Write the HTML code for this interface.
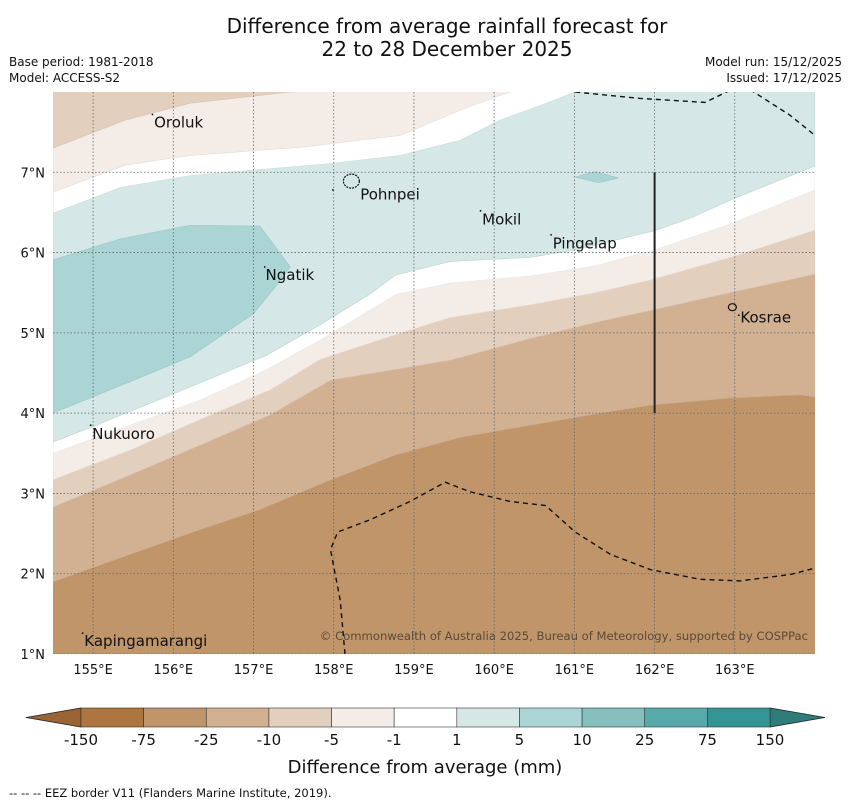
<!DOCTYPE html>
<html><head><meta charset="utf-8"><style>
body{margin:0;background:#fff;}
svg{display:block;font-family:"DejaVu Sans","Liberation Sans",sans-serif;}
</style></head><body>
<svg id="chart" width="850" height="804" viewBox="0 0 850 804" xmlns="http://www.w3.org/2000/svg">
<text x="447" y="33" font-size="20" text-anchor="middle" fill="#111">Difference from average rainfall forecast for</text>
<text x="447" y="56" font-size="20" text-anchor="middle" fill="#111">22 to 28 December 2025</text>
<text x="9" y="66" font-size="12" fill="#111">Base period: 1981-2018</text>
<text x="9" y="82" font-size="12" fill="#111">Model: ACCESS-S2</text>
<text x="842" y="66" font-size="12" text-anchor="end" fill="#111">Model run: 15/12/2025</text>
<text x="842" y="82" font-size="12" text-anchor="end" fill="#111">Issued: 17/12/2025</text>
<defs><clipPath id="mapclip"><rect x="53" y="92" width="762" height="562"/></clipPath></defs>
<g id="map" clip-path="url(#mapclip)"></g>
<g id="axes"></g>
<g id="cbar"></g>
<text x="425" y="773" font-size="18" text-anchor="middle" fill="#111">Difference from average (mm)</text>
<text x="9" y="797" font-size="11.5" fill="#111">--  --  -- EEZ border V11 (Flanders Marine Institute, 2019).</text>
</svg>
<script>
// ---- data (lon, lat) ----
const lonTicks=[155,156,157,158,159,160,161,162,163];
const latTicks=[1,2,3,4,5,6,7];
const bandLevels=["-150","-75","-25","-10","-5","-1","1","5","10","25","75","150"];
const bandColors=["#ad7540","#c0956a","#d2b193","#e3cfbe","#f4ece6","#ffffff","#d5e8e7","#abd5d5","#85c0bf","#57aaa9","#339695"];
const b1=[[154.5,1.90],[155.46,2.24],[156.33,2.55],[157.08,2.80],[157.96,3.17],[158.77,3.48],[159.58,3.70],[160.45,3.85],[161.32,4.00],[161.95,4.10],[162.94,4.19],[163.82,4.23],[164.0,4.20]];
const b2=[[154.5,2.83],[155.46,3.23],[156.33,3.60],[157.21,3.98],[157.96,4.41],[159.45,4.66],[160.45,4.93],[161.26,5.13],[161.95,5.28],[162.98,5.51],[164.0,5.73]];
const b3=[[154.5,3.17],[155.46,3.54],[156.33,3.92],[157.21,4.29],[157.83,4.67],[158.87,5.01],[159.45,5.19],[160.45,5.35],[161.26,5.50],[161.95,5.66],[162.98,5.95],[164.0,6.28]];
const b4=[[154.5,3.50],[155.46,3.85],[156.33,4.16],[157.16,4.54],[157.83,4.91],[158.78,5.48],[159.45,5.62],[160.45,5.71],[161.24,5.83],[161.99,6.03],[162.98,6.37],[164.0,6.78]];
const b5=[[154.5,3.64],[155.04,3.85],[156.0,4.24],[157.16,4.72],[157.83,5.10],[158.45,5.48],[158.77,5.72],[159.45,5.89],[160.45,5.94],[160.99,6.03],[161.99,6.27],[162.45,6.43],[162.98,6.67],[164.0,7.08]];
const t1=[[154.5,6.49],[155.34,6.81],[156.21,6.96],[157.96,7.11],[158.83,7.21],[159.58,7.40],[160.07,7.65],[160.57,7.83],[161.01,8.0]];
const t2=[[154.5,6.75],[155.40,7.09],[156.21,7.21],[157.58,7.31],[158.83,7.46],[159.64,7.80],[160.20,8.0]];
const t3=[[154.5,7.30],[155.40,7.65],[156.21,7.86],[157.46,8.0]];
const blob1=[[154.5,5.91],[155.34,6.17],[156.21,6.34],[157.08,6.33],[157.46,5.82],[157.27,5.57],[157.0,5.24],[156.21,4.70],[155.46,4.39],[154.5,4.00]];
const blob2=[[161.01,6.94],[161.26,7.01],[161.55,6.93],[161.30,6.87]];
const eezSouth=[[158.14,1.0],[158.08,1.67],[157.96,2.30],[158.05,2.52],[158.45,2.67],[158.95,2.90],[159.39,3.14],[159.70,3.02],[160.20,2.90],[160.64,2.85],[161.01,2.52],[161.45,2.24],[161.95,2.05],[162.57,1.93],[163.07,1.91],[163.69,1.99],[164.0,2.07]];
const eezNorth1=[[161.01,8.0],[161.82,7.92],[162.63,7.87],[163.0,8.05]];
const eezNorth2=[[163.19,8.03],[163.69,7.71],[164.0,7.46]];
const divider=[[162.0,7.0],[162.0,4.0]];
// name, label lon, label lat, marker lon, marker lat
const places=[["Oroluk",155.76,7.56,155.74,7.72],["Pohnpei",158.33,6.66,157.99,6.78],["Mokil",159.85,6.35,159.83,6.52],["Pingelap",160.73,6.05,160.71,6.22],["Ngatik",157.15,5.66,157.14,5.82],["Kosrae",163.07,5.13,163.05,5.22],["Nukuoro",154.99,3.68,154.97,3.85],["Kapingamarangi",154.89,1.1,154.87,1.26]];
// ---- axes ----
const X0=53,X1=815,Y0=92,Y1=654,LON0=154.5,LON1=164.0,LAT0=1.0,LAT1=8.0;
const xs=lon=>X0+(lon-LON0)/(LON1-LON0)*(X1-X0);
const ys=lat=>Y1-(lat-LAT0)/(LAT1-LAT0)*(Y1-Y0);
const NS="http://www.w3.org/2000/svg";
function mk(tag,attrs,parent){const e=document.createElementNS(NS,tag);for(const k in attrs)e.setAttribute(k,attrs[k]);parent.appendChild(e);return e;}
const pts=a=>a.map(p=>xs(p[0]).toFixed(1)+","+ys(p[1]).toFixed(1)).join(" ");
const map=document.getElementById('map');
let r=mk('rect',{x:X0,y:Y0,width:X1-X0,height:Y1-Y0,fill:bandColors[1]},map);


function up(line,color,name,edge){
  const poly=line.concat([[LON1,LAT1+0.2],[LON0,LAT1+0.2]]);
  const p=mk('polygon',{points:pts(poly),fill:color,stroke:edge,'stroke-width':0.6},map);
  
  
}
up(b1,bandColors[2],'band-neg25-neg10','#c9ad94');
up(b2,bandColors[3],'band-neg10-neg5','#d6c2b1');
up(b3,bandColors[4],'band-neg5-neg1','#e6dcd4');
up(b4,bandColors[5],'band-neg1-1','#e9e9e9');
up(b5,bandColors[6],'band-1-5','#b9d2d1');
up(t1,bandColors[5],'band-top-neg1-1','#c9dedd');
up(t2,bandColors[4],'band-top-neg5-neg1','#e6dcd4');
up(t3,bandColors[3],'band-top-neg10-neg5','#d6c2b1');
let q=mk('polygon',{points:pts(blob1),fill:bandColors[7],stroke:'#9cc6c6','stroke-width':0.6},map);


q=mk('polygon',{points:pts(blob2),fill:bandColors[7],stroke:'#9cc6c6','stroke-width':0.6},map);


lonTicks.forEach(l=>{const g=mk('line',{x1:xs(l),x2:xs(l),y1:Y0,y2:Y1,stroke:'#666','stroke-width':0.8,'stroke-dasharray':'1.5,2'},map);

});
latTicks.forEach(l=>{const g=mk('line',{x1:X0,x2:X1,y1:ys(l),y2:ys(l),stroke:'#666','stroke-width':0.8,'stroke-dasharray':'1.5,2'},map);

});
[eezSouth,eezNorth1,eezNorth2].forEach((a,i)=>{const e=mk('polyline',{points:pts(a),fill:'none',stroke:'#111','stroke-width':1.4,'stroke-dasharray':'5,4'},map);

});
const dv=mk('polyline',{points:pts(divider),fill:'none',stroke:'#222','stroke-width':2},map);


const pp=mk('ellipse',{cx:xs(158.22),cy:ys(6.89),rx:8,ry:7,fill:'none',stroke:'#111','stroke-width':1.2,'stroke-dasharray':'2,1'},map);


const ks=mk('ellipse',{cx:xs(162.97),cy:ys(5.32),rx:4,ry:3.5,fill:'none',stroke:'#111','stroke-width':1.2},map);


places.forEach(p=>{
  const d=mk('circle',{cx:xs(p[3]),cy:ys(p[4]),r:0.9,fill:'#111'},map);
  
  
  const t=mk('text',{x:xs(p[1]),y:ys(p[2]),'font-size':15,fill:'#111'},map);
  t.textContent=p[0];
  
  
});
const cp=mk('text',{x:808,y:640,'font-size':11.6,'text-anchor':'end',fill:'#5a4a3a'},map);
cp.textContent="© Commonwealth of Australia 2025, Bureau of Meteorology, supported by COSPPac";


const ax=document.getElementById('axes');
lonTicks.forEach(l=>{const t=mk('text',{x:xs(l),y:674,'font-size':13,'text-anchor':'middle',fill:'#111'},ax);
t.textContent=l+"°E";

});
latTicks.forEach(l=>{const t=mk('text',{x:45,y:ys(l)+5,'font-size':13,'text-anchor':'end',fill:'#111'},ax);
t.textContent=l+"°N";

});
const cb=document.getElementById('cbar');
const CB0=81,CB1=770,CBT=708,CBB=727,bw=(CB1-CB0)/bandColors.length;
let tri=mk('polygon',{points:`${CB0},${CBT} ${CB0},${CBB} 26,${(CBT+CBB)/2}`,fill:'#9a6436',stroke:'#222','stroke-width':0.8},cb);


tri=mk('polygon',{points:`${CB1},${CBT} ${CB1},${CBB} 825,${(CBT+CBB)/2}`,fill:'#2e7d7b',stroke:'#222','stroke-width':0.8},cb);


bandColors.forEach((c,i)=>{const b=mk('rect',{x:CB0+i*bw,y:CBT,width:bw,height:CBB-CBT,fill:c,stroke:'#333','stroke-width':0.6},cb);

});
bandLevels.forEach((s,i)=>{const t=mk('text',{x:CB0+i*bw,y:745,'font-size':15,'text-anchor':'middle',fill:'#111'},cb);
t.textContent=s;

});
</script>
</body></html>
